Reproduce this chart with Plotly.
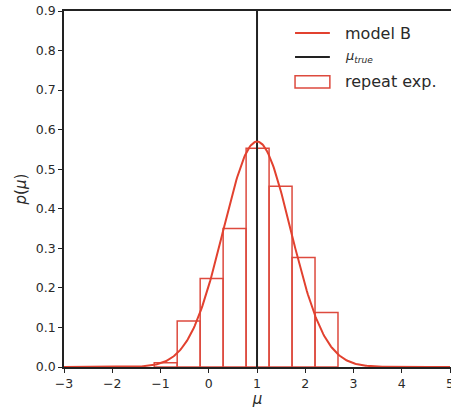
import numpy as np
import plotly.graph_objects as go

# Histogram of repeated experiments (bin edges and normalised heights)
bin_edges = [-1.13, -0.654, -0.178, 0.298, 0.774, 1.25, 1.726, 2.202, 2.678]
bin_heights = [0.011, 0.116, 0.224, 0.350, 0.553, 0.457, 0.277, 0.138]

# Model B: normal density parameters
model_mean = 1.0
model_sigma = 0.70
mu_true = 1.0

x_ticks = [-3, -2, -1, 0, 1, 2, 3, 4, 5]
y_ticks = [0.0, 0.1, 0.2, 0.3, 0.4, 0.5, 0.6, 0.7, 0.8, 0.9]

legend_labels = ["model B", "<i>μ</i><sub><i>true</i></sub>", "repeat exp."]

RED = "#e2412f"
BAR_RED = "#dd4a3e"
BLACK = "#222222"
TEXT = "#2a2a2a"
FONT = "DejaVu Sans"

edges = np.array(bin_edges)
centers = (edges[:-1] + edges[1:]) / 2
widths = np.diff(edges)

xs = np.linspace(-3, 5, 400)
pdf = np.exp(-0.5 * ((xs - model_mean) / model_sigma) ** 2) / (model_sigma * np.sqrt(2 * np.pi))

fig = go.Figure()
fig.add_trace(go.Bar(
    x=centers, y=bin_heights, width=widths,
    marker=dict(color="rgba(0,0,0,0)", line=dict(color=BAR_RED, width=1.5)),
    name="repeat exp.",
))
fig.add_trace(go.Scatter(
    x=[mu_true, mu_true], y=[0, 0.9], mode="lines",
    line=dict(color=BLACK, width=2),
    name="mu_true",
))
fig.add_trace(go.Scatter(
    x=xs, y=pdf, mode="lines",
    line=dict(color=RED, width=2),
    name="model B",
))

# Legend drawn in paper coordinates (upper right, no frame)
lx0, lx1, ltext = 0.597, 0.687, 0.722
rows = [0.938, 0.871, 0.801]
half_h = 0.017
shapes = [
    dict(type="line", xref="paper", yref="paper", x0=lx0, x1=lx1, y0=rows[0], y1=rows[0],
         line=dict(color=RED, width=2)),
    dict(type="line", xref="paper", yref="paper", x0=lx0, x1=lx1, y0=rows[1], y1=rows[1],
         line=dict(color=BLACK, width=2)),
    dict(type="rect", xref="paper", yref="paper", x0=lx0, x1=lx1,
         y0=rows[2] - half_h, y1=rows[2] + half_h,
         line=dict(color=BAR_RED, width=1.5), fillcolor="rgba(0,0,0,0)"),
]
annotations = [
    dict(xref="paper", yref="paper", x=ltext, y=yy, text=t, showarrow=False,
         xanchor="left", yanchor="middle",
         font=dict(family=FONT, size=16 if i != 1 else 13, color=TEXT))
    for i, (yy, t) in enumerate(zip(rows, legend_labels))
]

axis_common = dict(
    showgrid=False, zeroline=False, showline=True,
    linecolor=BLACK, linewidth=1.5,
    ticks="outside", ticklen=4, tickwidth=1.2, tickcolor=BLACK,
    tickfont=dict(family=FONT, size=12.5, color=TEXT),
    ticklabeloverflow="allow",
    automargin=False,
)

fig.update_layout(
    width=451, height=408,
    margin=dict(l=64, r=0, t=11, b=41),
    paper_bgcolor="white", plot_bgcolor="white",
    font=dict(family=FONT, size=12, color=TEXT),
    barmode="overlay",
    showlegend=False,
    shapes=shapes,
    annotations=annotations,
    xaxis=dict(
        range=[-3, 5.02], tickvals=x_ticks, mirror=True,
        title=dict(text="<i>μ</i>", font=dict(family=FONT, size=15, color=TEXT), standoff=4),
        **axis_common,
    ),
    yaxis=dict(
        range=[0, 0.9], tickvals=y_ticks, tickformat=".1f",
        title=dict(text="<i>p</i>(<i>μ</i>)", font=dict(family=FONT, size=15, color=TEXT), standoff=6),
        **axis_common,
    ),
)

fig.write_html("out.html")
